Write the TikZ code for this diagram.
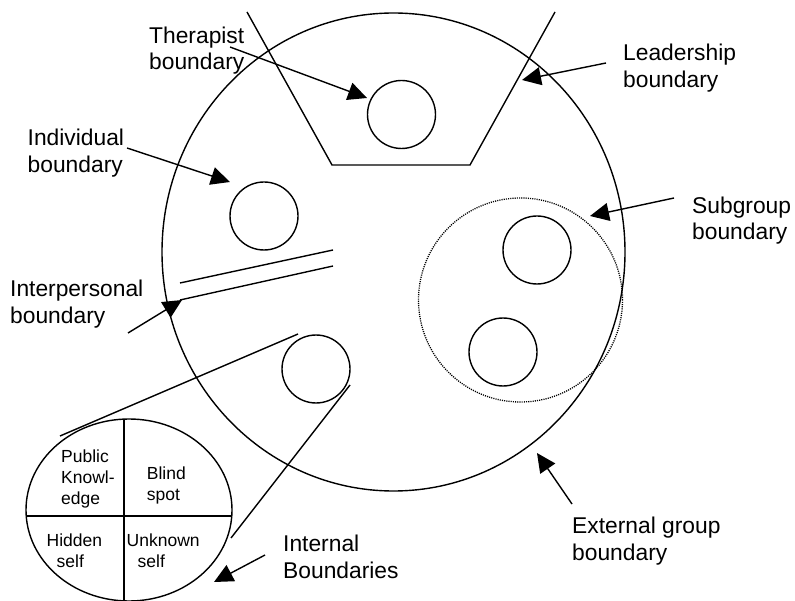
\documentclass[tikz,border=0pt]{standalone}
\usepackage{fontspec}
\setmainfont{Liberation Sans}
\usetikzlibrary{arrows.meta,shapes.geometric}
\tikzset{
  ln/.style={line width=1.4pt},
  person/.style={circle,draw,line width=1.4pt,minimum size=68pt,inner sep=0pt},
  lbl/.style={anchor=base west,inner sep=0pt,align=left,font=\fontsize{22.8}{26.7}\selectfont},
  cell/.style={anchor=base west,inner sep=0pt,align=left,font=\fontsize{17.5}{21}\selectfont},
  pointer/.style={line width=1.4pt,-{Triangle[length=19pt,width=18pt]}}
}
\begin{document}
\begin{tikzpicture}[x=1pt,y=-1pt]
\useasboundingbox (0,0) rectangle (795,601);
% external group boundary
\node[ellipse,draw,line width=1.4pt,minimum width=463pt,minimum height=478pt,inner sep=0pt] (group) at (393.5,252) {};
% leadership trapezoid
\draw[ln,line join=miter] (247,12) -- (332,165) -- (470,165) -- (555,12);
% members
\node[person] (ther) at (401.5,114.5) {};
\node[person] (indiv) at (264,216) {};
\node[person] (self) at (316,369) {};
\node[person] (sub1) at (537,250) {};
\node[person] (sub2) at (503,352) {};
% subgroup boundary
\node[circle,draw,line width=1.3pt,dash pattern=on 1.1pt off 1.1pt,minimum size=204pt,inner sep=0pt] (subg) at (520.5,300) {};
% interpersonal lines
\coordinate (ip1a) at (180,283); \coordinate (ip1b) at (333,250);
\coordinate (ip2a) at (180,300); \coordinate (ip2b) at (333,266);
\draw[ln] (ip1a) -- (ip1b);
\draw[ln] (ip2a) -- (ip2b);
% Johari window
\node[ellipse,draw,line width=1.4pt,minimum width=206pt,minimum height=182pt,inner sep=0pt] (johari) at (129,510) {};
\begin{scope}
  \clip (129,510) ellipse [x radius=103pt, y radius=91pt];
  \draw[ln] (0,516) -- (300,516);
  \draw[ln] (124,400) -- (124,620);
\end{scope}
% cell texts (anchored at the baseline of their last line)
\node[cell] (pub) at (61,504) {Public\\Knowl-\\edge};
\node[cell] (blind) at (146.7,500) {Blind\\spot};
\node[cell] (hidden) at (46.5,567) {Hidden\\\hspace*{10pt}self};
\node[cell] (unknown) at (126.5,567) {Unknown\\\hspace*{11pt}self};
% zoom lines
\coordinate (z1a) at (298,334); \coordinate (z1b) at (60,436);
\coordinate (z2a) at (350,385); \coordinate (z2b) at (231,538);
\draw[ln] (z1a) -- (z1b);
\draw[ln] (z2a) -- (z2b);
% labels (anchored at the baseline of their last line)
\node[lbl] (lther) at (149,70) {Therapist\\boundary};
\node[lbl] (llead) at (623,87.2) {Leadership\\boundary};
\node[lbl] (lindiv) at (27.5,172.2) {Individual\\boundary};
\node[lbl] (linter) at (10,323.3) {Interpersonal\\boundary};
\node[lbl] (lsub) at (692,240) {Subgroup\\boundary};
\node[lbl] (lext) at (572,560) {External group\\boundary};
\node[lbl] (lint) at (283,578.4) {Internal\\Boundaries};
% arrows
\coordinate (a1s) at (230,47);  \coordinate (a1e) at (367,98);
\coordinate (a2s) at (606,63);  \coordinate (a2e) at (522,80);
\coordinate (a3s) at (127,148); \coordinate (a3e) at (230,182);
\coordinate (a4s) at (128,333); \coordinate (a4e) at (182,300);
\coordinate (a5s) at (674,198); \coordinate (a5e) at (590,216);
\coordinate (a6s) at (572,504); \coordinate (a6e) at (537,453);
\coordinate (a7s) at (265,555); \coordinate (a7e) at (214,582);
\draw[pointer] (a1s) -- (a1e);
\draw[pointer] (a2s) -- (a2e);
\draw[pointer] (a3s) -- (a3e);
\draw[pointer] (a4s) -- (a4e);
\draw[pointer] (a5s) -- (a5e);
\draw[pointer] (a6s) -- (a6e);
\draw[pointer] (a7s) -- (a7e);
\end{tikzpicture}
\end{document}
